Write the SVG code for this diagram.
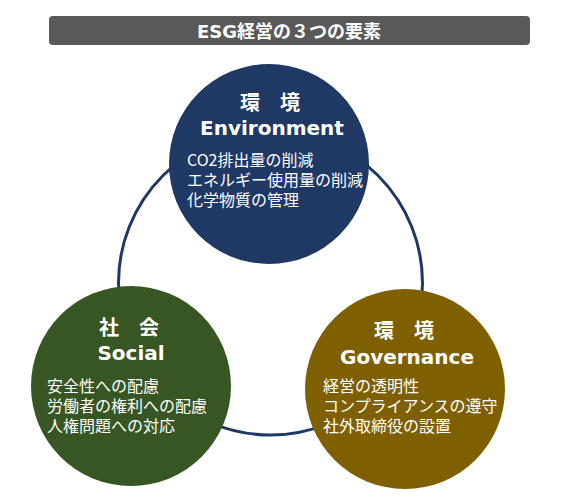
<svg xmlns="http://www.w3.org/2000/svg" width="570" height="501" viewBox="0 0 570 501">
<style>
.head{font-family:"DejaVu Sans","Noto Sans CJK JP",sans-serif;font-weight:bold;fill:#fff;text-anchor:middle}
.body{font-family:"Noto Sans CJK JP",sans-serif;font-size:16px;fill:#fff}
.ring{fill:none;stroke:#1F3864;stroke-width:3}
</style>
<rect width="570" height="501" fill="#fff"/>
<g id="title">
<rect x="49" y="16" width="481" height="29" rx="4" ry="4" fill="#595959"/>
<text x="289" y="38" class="head" font-size="18">ESG経営の３つの要素</text>
</g>
<g id="connectors">
<circle class="ring" cx="270.5" cy="283" r="152"/>
</g>
<g id="environment">
<circle cx="269" cy="164" r="100" fill="#203864"/>
<text x="270" y="110" class="head" font-size="20">環　境</text>
<text x="272" y="135" class="head" font-size="20">Environment</text>
<text class="body" x="187" y="166">CO2排出量の削減</text>
<text class="body" x="187" y="186">エネルギー使用量の削減</text>
<text class="body" x="187" y="206">化学物質の管理</text>
</g>
<g id="social">
<circle cx="131" cy="386" r="100" fill="#375623"/>
<text x="129" y="335" class="head" font-size="20">社　会</text>
<text x="131" y="360" class="head" font-size="20">Social</text>
<text class="body" x="47" y="392">安全性への配慮</text>
<text class="body" x="47" y="412">労働者の権利への配慮</text>
<text class="body" x="47" y="432">人権問題への対応</text>
</g>
<g id="governance">
<circle cx="405" cy="389" r="100" fill="#7F6000"/>
<text x="404" y="338" class="head" font-size="20">環　境</text>
<text x="407" y="364" class="head" font-size="20">Governance</text>
<text class="body" x="323" y="392">経営の透明性</text>
<text class="body" x="323" y="412">コンプライアンスの遵守</text>
<text class="body" x="323" y="432">社外取締役の設置</text>
</g>
</svg>
